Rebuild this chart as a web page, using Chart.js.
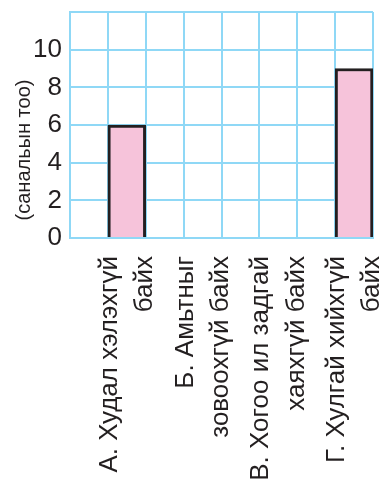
<!DOCTYPE html>
<html>
<head>
<meta charset="utf-8">
<script src="https://cdn.jsdelivr.net/npm/chart.js@4"></script>
<style>
  html, body { margin: 0; padding: 0; background: #fff; }
  #wrap { width: 381px; height: 484px; }
</style>
</head>
<body>
<div id="wrap"><canvas id="voteChart"></canvas></div>
<script>
// answer options (two text lines each) and number of votes
var categories = [
    ['А. Худал хэлэхгүй', 'байх'],
    ['Б. Амьтныг', 'зовоохгүй байх'],
    ['В. Хогоо ил задгай', 'хаяхгүй байх'],
    ['Г. Хулгай хийхгүй', 'байх']
];
var votes = [6, 0, 0, 9];
var yTickLabels = [0, 2, 4, 6, 8, 10];
var yTitle = '(санальын тоо)';

// each option takes two grid columns, the bar sits in the right one
var slotLabels = [], slotValues = [];
categories.forEach(function (c, i) {
    slotLabels.push('');
    slotValues.push(null);
    slotLabels.push(c);
    slotValues.push(votes[i]);
});

var gridColor = '#8fd8f6';
var textColor = '#231f20';
var font = '"Liberation Sans", Arial, sans-serif';

function noPad(s) {
    s.paddingLeft = 0; s.paddingRight = 0;
    s.paddingTop = 0; s.paddingBottom = 0;
}

var yTitlePlugin = {
    id: 'yTitle',
    afterDraw: function (chart) {
        var ctx = chart.ctx;
        ctx.save();
        ctx.translate(24, 150);
        ctx.rotate(-Math.PI / 2);
        ctx.font = '20px ' + font;
        ctx.fillStyle = textColor;
        ctx.textAlign = 'center';
        ctx.textBaseline = 'middle';
        ctx.fillText(yTitle, 0, 0);
        ctx.restore();
    }
};

var ctx = document.getElementById('voteChart');
new Chart(ctx, {
    type: 'bar',
    data: {
        labels: slotLabels,
        datasets: [{
            data: slotValues,
            backgroundColor: '#f6c3da',
            borderColor: '#231f20',
            borderWidth: 3,
            barPercentage: 1,
            categoryPercentage: 1
        }]
    },
    options: {
        responsive: true,
        maintainAspectRatio: false,
        animation: false,
        layout: { padding: { top: 12, right: 8, left: 0, bottom: 0 } },
        plugins: {
            legend: { display: false },
            tooltip: { enabled: false }
        },
        scales: {
            x: {
                z: 1,
                offset: true,
                grid: { offset: true, color: gridColor, lineWidth: 2, drawTicks: false },
                border: { color: gridColor, width: 2 },
                ticks: {
                    autoSkip: false,
                    minRotation: 90,
                    maxRotation: 90,
                    padding: 18,
                    labelOffset: -17,
                    color: textColor,
                    font: { family: font, size: 26, lineHeight: 1.35 }
                },
                afterFit: function (s) { s.height = 246; noPad(s); }
            },
            y: {
                z: 1,
                min: 0,
                max: 12,
                grid: { color: gridColor, lineWidth: 2, drawTicks: false },
                border: { color: gridColor, width: 2 },
                ticks: {
                    stepSize: 2,
                    padding: 8,
                    color: textColor,
                    font: { family: font, size: 26 },
                    callback: function (v) { return yTickLabels.indexOf(v) >= 0 ? v : ''; }
                },
                afterFit: function (s) { s.width = 70; noPad(s); }
            }
        }
    },
    plugins: [yTitlePlugin]
});
</script>
</body>
</html>
